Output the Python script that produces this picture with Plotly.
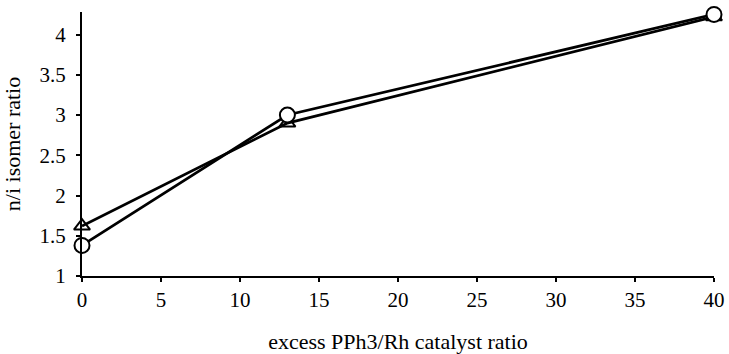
import plotly.graph_objects as go

x_vals = [0, 13, 40]
triangle_vals = [1.62, 2.90, 4.22]
circle_vals = [1.38, 3.00, 4.25]
x_ticks = [0, 5, 10, 15, 20, 25, 30, 35, 40]
y_ticks = [1, 1.5, 2, 2.5, 3, 3.5, 4]
y_tick_text = ["1", "1.5", "2", "2.5", "3", "3.5", "4"]

fig = go.Figure()
fig.add_trace(go.Scatter(
    x=x_vals, y=triangle_vals, mode="lines+markers",
    line=dict(color="black", width=2.7),
    marker=dict(symbol="triangle-up-open", size=14, color="black", line=dict(width=2)),
    cliponaxis=False, showlegend=False))
fig.add_trace(go.Scatter(
    x=x_vals, y=circle_vals, mode="lines+markers",
    line=dict(color="black", width=2.7),
    marker=dict(symbol="circle", size=15, color="white", line=dict(width=2, color="black")),
    cliponaxis=False, showlegend=False))

font = dict(family="Liberation Serif, Times New Roman, serif", size=21, color="black")
title_font = dict(family="Liberation Serif, Times New Roman, serif", size=22, color="black")
fig.update_layout(
    width=729, height=354,
    margin=dict(l=82, r=15, t=12, b=78),
    plot_bgcolor="white", paper_bgcolor="white",
    font=font,
)
fig.update_xaxes(
    range=[0, 40], tickvals=x_ticks, showgrid=False, zeroline=False,
    showline=True, linecolor="black", linewidth=2,
    ticks="outside", ticklen=4, tickwidth=1.5, tickcolor="black",
    tickfont=font, automargin=False,
    title=dict(text="excess PPh3/Rh catalyst ratio", standoff=22, font=title_font),
    ticklabelstandoff=0,
)
fig.update_yaxes(
    range=[1, 4.28], tickvals=y_ticks, ticktext=y_tick_text, showgrid=False, zeroline=False,
    showline=True, linecolor="black", linewidth=2,
    ticks="outside", ticklen=4, tickwidth=1.5, tickcolor="black",
    tickfont=font, automargin=False, ticklabelstandoff=6,
    title=dict(text="n/i isomer ratio", standoff=14, font=title_font),
)
fig.write_html(
    "out.html",
    config={"displayModeBar": False},
    post_script="document.body.style.margin='0';document.body.style.overflow='hidden';",
)
